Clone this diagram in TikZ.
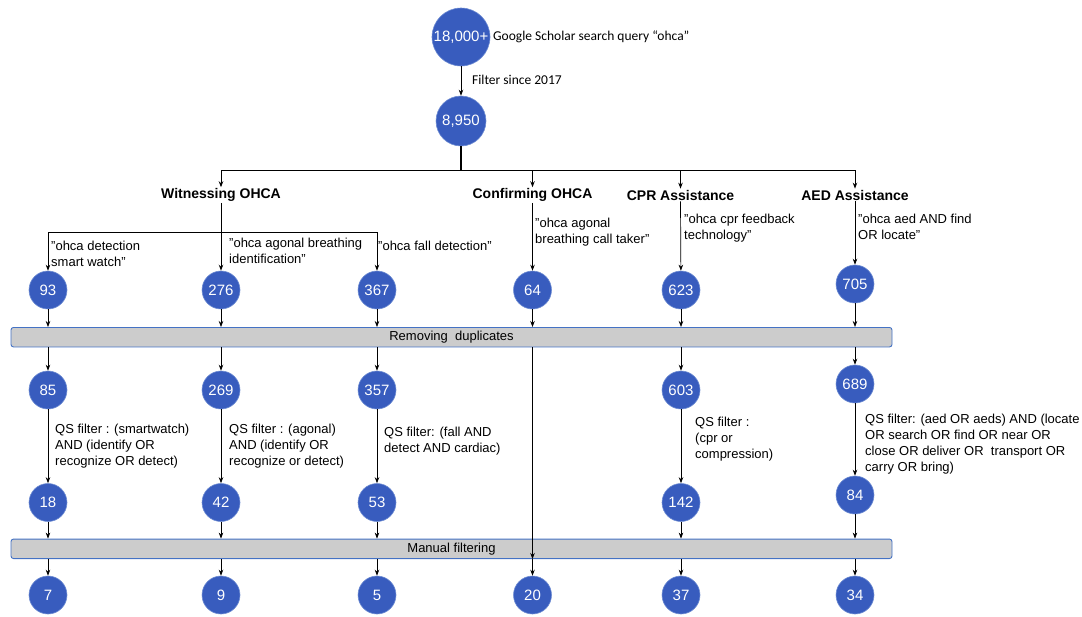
\documentclass[tikz,border=0pt]{standalone}
\usepackage{fontspec}
\setmainfont{Liberation Sans}
\newfontfamily\calfont{Carlito}
\usetikzlibrary{arrows.meta,calc}
\definecolor{cblue}{RGB}{56,92,190}
\definecolor{cedge}{RGB}{110,140,210}
\definecolor{bargray}{RGB}{204,204,204}
\definecolor{barblue}{RGB}{68,114,196}
\newcommand{\sdq}{\char34\relax}
\begin{document}
\begin{tikzpicture}[x=1pt,y=-1pt,
  num/.style={circle, fill=cblue, draw=cedge, line width=0.6pt, text=white,
    font=\fontsize{15}{15}\selectfont, minimum size=38pt, inner sep=0pt},
  lbl/.style={align=left, anchor=north west, inner sep=0pt,
    font=\fontsize{13}{16}\selectfont},
  head/.style={font=\fontsize{14}{14}\selectfont\bfseries, inner sep=1pt},
  bar/.style={draw=barblue, fill=bargray, rounded corners=2.5pt, line width=0.9pt,
    minimum width=881pt, minimum height=19.5pt, inner sep=0pt,
    font=\fontsize{13}{13}\selectfont},
  arr/.style={-{Stealth[length=6pt,width=4.5pt]}, line width=0.7pt},
  ln/.style={line width=0.7pt}
]
\useasboundingbox (0,0) rectangle (1082,616);

% top
\node[num, minimum size=58pt] (top) at (461,37) {18,000+};
\node[anchor=west, inner sep=0pt, font=\calfont\fontsize{13.5}{13.5}\selectfont] (gs) at (493,37) {Google Scholar search query “ohca”};
\node[num, minimum size=50pt] (n8950) at (461,121) {8,950};
\draw[arr] (top) -- (n8950);
\node[anchor=west, inner sep=0pt, font=\calfont\fontsize{13.5}{13.5}\selectfont] (f17) at (472,80) {Filter since 2017};

% headings
\node[head] (h1) at (221,195) {Witnessing OHCA};
\node[head] (h2) at (532.5,195) {Confirming OHCA};
\node[head] (h3) at (680.5,195) {CPR Assistance};
\node[head] (h4) at (855,195) {AED Assistance};

\coordinate (bus) at (461,170.5);
\draw[line width=1.8pt] (n8950.south) -- (bus);
\draw[arr, line width=1pt] (bus) -| (h1.north);
\draw[arr, line width=1pt] (bus) -| (h2.north);
\draw[arr, line width=1pt] (bus) -| (h3.north);
\draw[arr, line width=1pt] (bus) -| (h4.north);

% row 1
\node[num] (n93) at (48,290) {93};
\node[num] (n276) at (221,290) {276};
\node[num] (n367) at (377,290) {367};
\node[num] (n64) at (532.5,290) {64};
\node[num] (n623) at (681,290) {623};
\node[num] (n705) at (855,284) {705};

\coordinate (w) at (221,232);
\draw[arr, line width=1pt] (h1.south) -- (n276);
\draw[arr] (w) -| (n93);
\draw[arr] (w) -| (n367);
\draw[arr] (h2.south) -- (n64);
\draw[arr] (h3.south) -- (n623);
\draw[arr] (h4.south) -- (n705);

\node[lbl] (q1) at (51,240.5) {\sdq ohca detection\\smart watch\sdq};
\node[lbl] (q2) at (229,237.5) {\sdq ohca agonal breathing\\identification”};
\node[lbl] (q3) at (378,240.5) {\sdq ohca fall detection\sdq};
\node[lbl] (q4) at (535,217.5) {\sdq ohca agonal\\breathing call taker\sdq};
\node[lbl] (q5) at (684,213.5) {\sdq ohca cpr feedback\\technology”};
\node[lbl] (q6) at (858,213.5) {\sdq ohca aed AND find\\OR locate”};

% bars
\node[bar] (rd) at (451.5,337.2) {Removing~ duplicates};
\node[bar] (mf) at (451.5,548.8) {Manual filtering};

% row 2
\node[num] (n85) at (48,390) {85};
\node[num] (n269) at (221,390) {269};
\node[num] (n357) at (377,390) {357};
\node[num] (n603) at (681,390) {603};
\node[num] (n689) at (855,384) {689};

% row 3
\node[num] (n18) at (48,502.5) {18};
\node[num] (n42) at (221,502.5) {42};
\node[num] (n53) at (377,502.5) {53};
\node[num] (n142) at (681,502.5) {142};
\node[num] (n84) at (855,495) {84};

% row 4
\node[num] (n7) at (48,595) {7};
\node[num] (n9) at (221,595) {9};
\node[num] (n5) at (377,595) {5};
\node[num] (n20) at (532.5,595) {20};
\node[num] (n37) at (681,595) {37};
\node[num] (n34) at (855,595) {34};

% arrows into / out of bars
\foreach \a/\b in {n93/n85, n276/n269, n367/n357, n623/n603, n705/n689}{
  \draw[arr] (\a) -- (rd.north -| \a);
  \draw[arr] (rd.south -| \a) -- (\b);
}
\draw[arr] (n64) -- (rd.north -| n64);
\draw[arr] (rd.south -| n64) -- (mf.south -| n64);
\draw[arr] (mf.south -| n64) -- (n20);

\foreach \a/\b in {n85/n18, n269/n42, n357/n53, n603/n142, n689/n84}{
  \draw[arr] (\a) -- (\b);
}
\foreach \a/\b in {n18/n7, n42/n9, n53/n5, n142/n37, n84/n34}{
  \draw[arr] (\a) -- (mf.north -| \a);
  \draw[arr] (mf.south -| \a) -- (\b);
}

% filter labels
\node[lbl] (s1) at (55,424) {QS filter : (smartwatch)\\AND (identify OR\\recognize OR detect)};
\node[lbl] (s2) at (229,424) {QS filter : (agonal)\\AND (identify OR\\recognize or detect)};
\node[lbl] (s3) at (384,426.5) {QS filter: (fall AND\\detect AND cardiac)};
\node[lbl] (s4) at (695,416.5) {QS filter :\\(cpr or\\compression)};
\node[lbl] (s5) at (865,414) {QS filter: (aed OR aeds) AND (locate\\OR search OR find OR near OR\\close OR deliver OR~ transport OR\\carry OR bring)};
\end{tikzpicture}
\end{document}
